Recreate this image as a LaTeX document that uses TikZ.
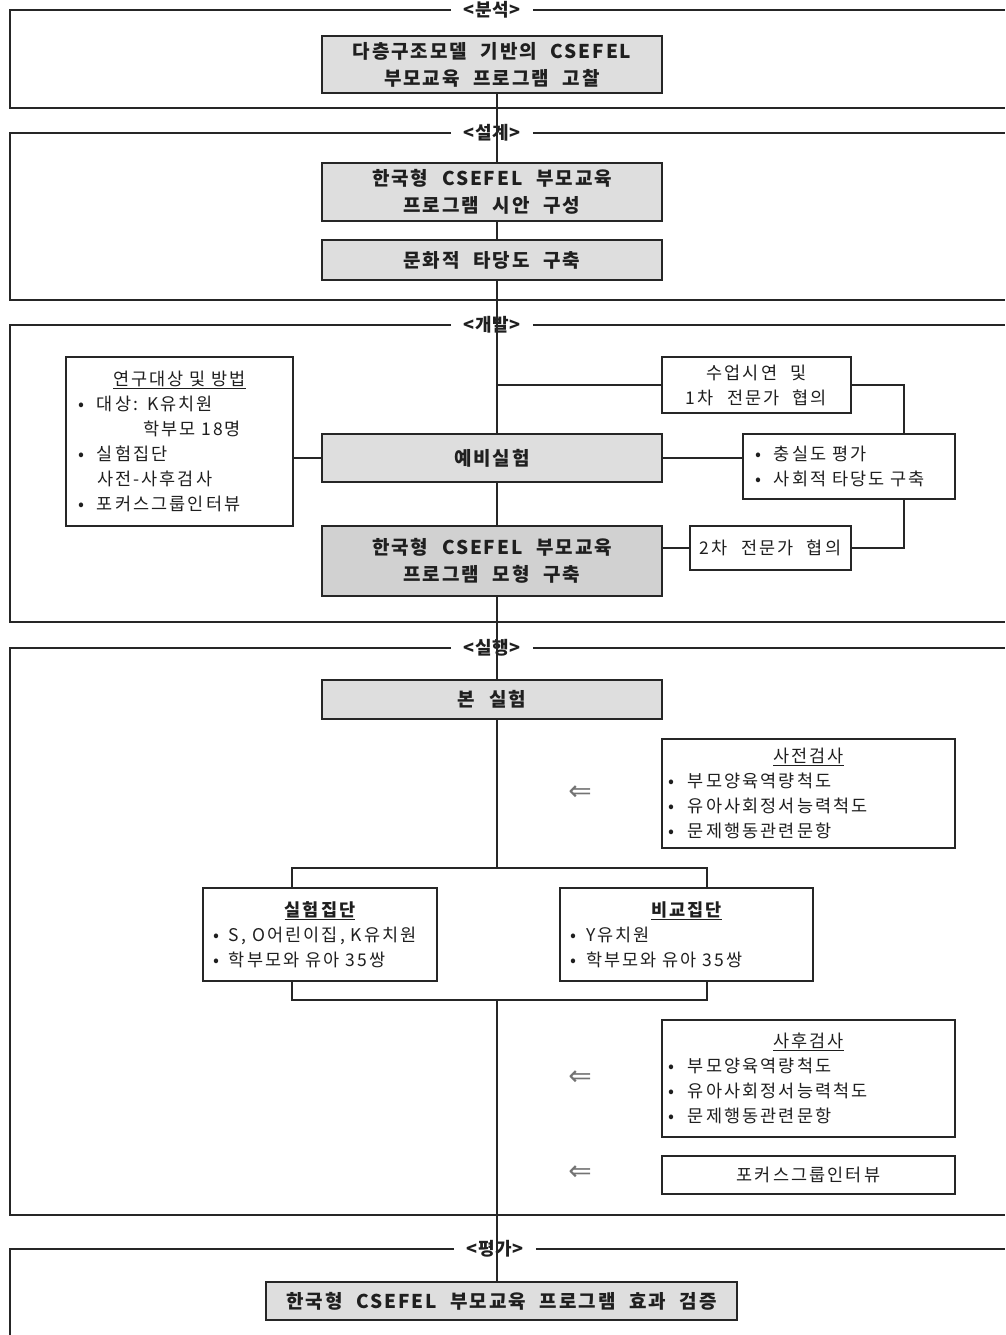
\documentclass[tikz,border=0pt]{standalone}
\usepackage{fontspec}
\setmainfont[LetterSpace=12,WordSpace=2.2]{Noto Sans CJK KR}
\newfontfamily\arrowfont{DejaVu Sans}
\newcommand\regtext{\fontsize{17.5}{25}\selectfont}
\newcommand\bfbox{\fontsize{19}{27}\selectfont\bfseries\addfontfeatures{LetterSpace=10}}
\newcommand\lbltext{\fontsize{18}{20}\selectfont\bfseries\addfontfeatures{LetterSpace=4}}
\newcommand\bu[1][19pt]{\makebox[#1][l]{•}}
\newcommand\ctr[1]{\null\hfill#1\hfill\null}
\begin{document}
\begin{tikzpicture}[x=1pt,y=-1pt,
  frame/.style={line width=1.6pt, draw=black!85},
  conn/.style={line width=1.3pt, draw=black!85},
  gbox/.style={draw=black!85, line width=1.6pt, fill=black!13, font=\bfbox, text=black!88, align=center, inner sep=0pt},
  wbox/.style={draw=black!85, line width=1.6pt, fill=white, font=\regtext, text=black!88, inner ysep=0pt},
  sect/.style={font=\lbltext, text=black!88, inner xsep=12pt, inner ysep=0pt},
  arr/.style={font=\arrowfont\fontsize{28}{28}\selectfont, text=black!55, inner sep=0pt}
]
\useasboundingbox (0,0) rectangle (1005,1335);
\coordinate (cx) at (497,0);
\coordinate (rx) at (904,0);

% ---------- section labels and frames
\node[sect] (l1) at (492,10) {<분석>};
\node[sect] (l2) at (492,133) {<설계>};
\node[sect] (l3) at (492,325) {<개발>};
\node[sect] (l4) at (492,648) {<실행>};
\node[sect] (l5) at (495,1249) {<평가>};

\draw[frame] (l1.west) -- (10,10) -- (10,108) -- (1005,108);
\draw[frame] (l1.east) -- (1005,10);
\draw[frame] (l2.west) -- (10,133) -- (10,300) -- (1005,300);
\draw[frame] (l2.east) -- (1005,133);
\draw[frame] (l3.west) -- (10,325) -- (10,622) -- (1005,622);
\draw[frame] (l3.east) -- (1005,325);
\draw[frame] (l4.west) -- (10,648) -- (10,1215) -- (1005,1215);
\draw[frame] (l4.east) -- (1005,648);
\draw[frame] (l5.west) -- (10,1249) -- (10,1335);
\draw[frame] (l5.east) -- (1005,1249);

% ---------- analysis / design
\node[gbox, minimum width=340pt, minimum height=57pt] (b1) at (492,64.5)
  {다층구조모델 기반의 CSEFEL\\부모교육 프로그램 고찰};
\node[gbox, minimum width=340pt, minimum height=58pt] (b2) at (492,192)
  {한국형 CSEFEL 부모교육\\프로그램 시안 구성};
\node[gbox, minimum width=340pt, minimum height=40pt] (b3) at (492,260)
  {문화적 타당도 구축};

% ---------- development
\node[wbox, minimum width=227pt, minimum height=169pt, inner xsep=12pt, text width=203pt, align=left] (subj) at (179.5,441.5)
  {\ctr{\underline{연구대상 및 방법}}\\
   \bu 대상: K유치원\\
   \hspace*{65pt}학부모 18명\\
   \bu 실험집단\\
   \hspace*{19pt}사전-사후검사\\
   \bu 포커스그룹인터뷰};
\node[wbox, minimum width=189pt, minimum height=56pt, align=center, inner xsep=0pt] (demo) at (756.5,385)
  {수업시연 및\\1차 전문가 협의};
\node[gbox, minimum width=340pt, minimum height=48pt] (prelim) at (492,458) {예비실험};
\node[wbox, minimum width=212pt, minimum height=65pt, inner xsep=12pt, text width=188pt, align=left] (fid) at (849,466.5)
  {\bu 충실도 평가\\\bu 사회적 타당도 구축};
\node[gbox, minimum width=340pt, minimum height=70pt, fill=black!18] (model) at (492,561)
  {한국형 CSEFEL 부모교육\\프로그램 모형 구축};
\node[wbox, minimum width=161pt, minimum height=44pt, align=center, inner xsep=0pt] (mod2) at (770.5,548)
  {2차 전문가 협의};

% ---------- execution
\node[gbox, minimum width=340pt, minimum height=39pt] (main) at (492,699.5) {본 실험};
\node[wbox, minimum width=293pt, minimum height=109pt, inner xsep=6pt, text width=281pt, align=left] (pre) at (808.5,793.5)
  {\ctr{\underline{사전검사}}\\
   \bu[20pt]부모양육역량척도\\
   \bu[20pt]유아사회정서능력척도\\
   \bu[20pt]문제행동관련문항};
\node[arr] (a1) at (580,793) {⇐};
\node[wbox, minimum width=234pt, minimum height=93pt, inner xsep=10pt, text width=214pt, align=left] (exp) at (320,934.5)
  {\ctr{{\bfseries\underline{실험집단}}}\\
   \bu[16pt]S, O어린이집, K유치원\\
   \bu[16pt]학부모와 유아 35쌍};
\node[wbox, minimum width=253pt, minimum height=93pt, inner xsep=10pt, text width=233pt, align=left] (cmp) at (686.5,934.5)
  {\ctr{{\bfseries\underline{비교집단}}}\\
   \bu[16pt]Y유치원\\
   \bu[16pt]학부모와 유아 35쌍};
\node[wbox, minimum width=293pt, minimum height=117pt, inner xsep=6pt, text width=281pt, align=left] (post) at (808.5,1078.5)
  {\ctr{\underline{사후검사}}\\
   \bu[20pt]부모양육역량척도\\
   \bu[20pt]유아사회정서능력척도\\
   \bu[20pt]문제행동관련문항};
\node[arr] (a2) at (580,1078) {⇐};
\node[wbox, minimum width=293pt, minimum height=38pt, align=center, inner xsep=0pt] (focus) at (808.5,1175)
  {포커스그룹인터뷰};
\node[arr] (a3) at (580,1173) {⇐};

% ---------- evaluation
\node[gbox, minimum width=471pt, minimum height=38pt] (eval) at (501.5,1301)
  {한국형 CSEFEL 부모교육 프로그램 효과 검증};

% ---------- connectors
\draw[conn] (b1.south -| cx) -- (b2.north -| cx);
\draw[conn] (b2.south -| cx) -- (b3.north -| cx);
\draw[conn] (b3.south -| cx) -- (prelim.north -| cx);
\draw[conn] (demo.west -| cx) -- (demo.west);
\draw[conn] (demo.east) -- (demo.east -| rx) -- (fid.north -| rx);
\draw[conn] (fid.south -| rx) -- (mod2.east -| rx) -- (mod2.east);
\draw[conn] (prelim.east) -- (prelim.east -| fid.west);
\draw[conn] (prelim.west -| subj.east) -- (prelim.west);
\draw[conn] (mod2.west -| model.east) -- (mod2.west);
\draw[conn] (prelim.south -| cx) -- (model.north -| cx);
\draw[conn] (model.south -| cx) -- (main.north -| cx);

\coordinate (bt) at (497,868);
\coordinate (bl) at (292,868);
\coordinate (bri) at (707,868);
\draw[conn] (main.south -| cx) -- (bt);
\draw[conn] (exp.north -| bl) -- (bl) -- (bri) -- (cmp.north -| bri);
\coordinate (jl) at (292,1000);
\coordinate (jr) at (707,1000);
\coordinate (jc) at (497,1000);
\draw[conn] (exp.south -| jl) -- (jl) -- (jr) -- (cmp.south -| jr);
\draw[conn] (jc) -- (eval.north -| cx);
\end{tikzpicture}
\end{document}
